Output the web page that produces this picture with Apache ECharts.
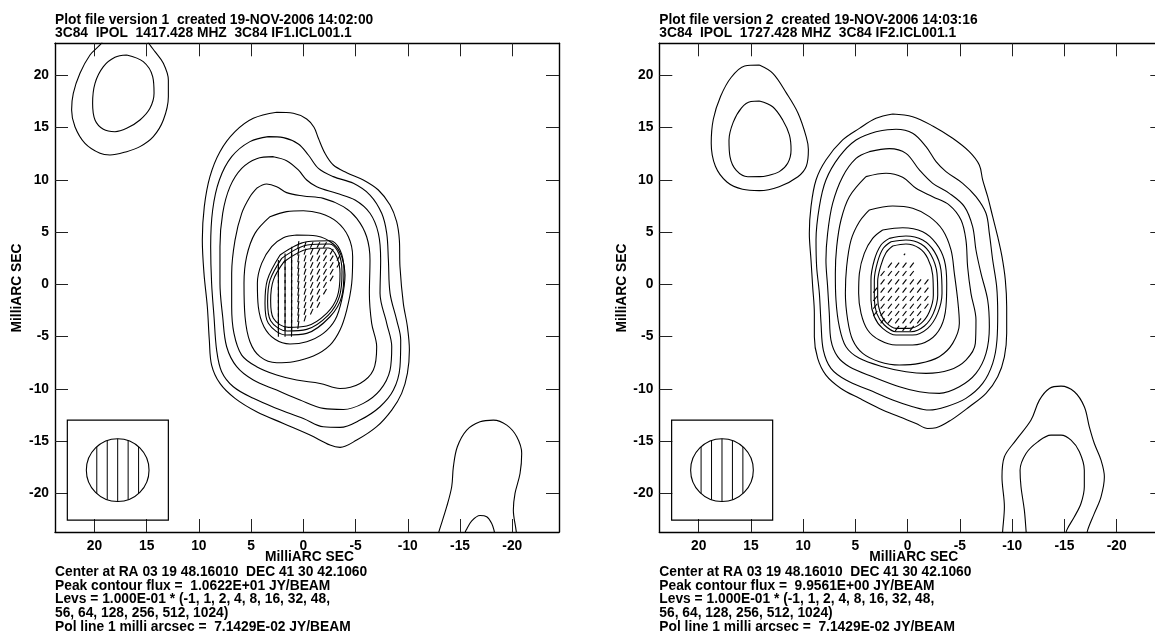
<!DOCTYPE html>
<html><head><meta charset="utf-8">
<script src="https://cdn.jsdelivr.net/npm/echarts@6/dist/echarts.min.js"></script>
<style>html,body{margin:0;padding:0;background:#fff}#c{width:1155px;height:634px}</style>
</head><body><div id="c"></div>
<script>
// ---------- text ----------
const titlesL = ["Plot file version 1  created 19-NOV-2006 14:02:00", "3C84  IPOL  1417.428 MHZ  3C84 IF1.ICL001.1"];
const titlesR = ["Plot file version 2  created 19-NOV-2006 14:03:16", "3C84  IPOL  1727.428 MHZ  3C84 IF2.ICL001.1"];
const notesL = ["Center at RA 03 19 48.16010  DEC 41 30 42.1060", "Peak contour flux =  1.0622E+01 JY/BEAM", "Levs = 1.000E-01 * (-1, 1, 2, 4, 8, 16, 32, 48,", "56, 64, 128, 256, 512, 1024)", "Pol line 1 milli arcsec =  7.1429E-02 JY/BEAM"];
const notesR = ["Center at RA 03 19 48.16010  DEC 41 30 42.1060", "Peak contour flux =  9.9561E+00 JY/BEAM", "Levs = 1.000E-01 * (-1, 1, 2, 4, 8, 16, 32, 48,", "56, 64, 128, 256, 512, 1024)", "Pol line 1 milli arcsec =  7.1429E-02 JY/BEAM"];
const axisName = "MilliARC SEC";
const tickValues = [20, 15, 10, 5, 0, -5, -10, -15, -20];

// ---------- left map (1417 MHz) contours, milliarcsec ----------
const L1 = [[2.55,16.47],[0.96,16.37],[-0.32,15.83],[-1.02,15.03],[-1.44,13.98],[-2.07,12.54],[-2.87,11.42],[-4.15,10.69],[-5.74,9.99],[-7.18,9.03],[-8.30,7.59],[-8.93,6.00],[-9.19,4.24],[-9.25,1.69],[-9.57,-1.82],[-9.96,-4.05],[-10.15,-6.29],[-9.96,-8.52],[-9.41,-10.43],[-8.46,-12.03],[-7.02,-13.62],[-5.11,-14.90],[-3.51,-15.60],[-2.55,-15.38],[-0.64,-14.42],[1.91,-13.31],[4.47,-12.19],[6.54,-10.91],[7.98,-9.48],[8.78,-7.72],[9.00,-5.33],[9.19,-2.14],[9.51,1.05],[9.67,4.24],[9.48,7.44],[8.94,10.31],[7.98,12.70],[6.54,14.61],[4.79,15.89]];
const L2 = [[3.35,14.14],[1.91,14.04],[0.48,13.43],[-0.48,12.38],[-1.44,11.10],[-2.87,10.31],[-4.79,9.67],[-6.38,8.55],[-7.50,6.80],[-7.98,4.88],[-8.14,2.33],[-8.30,-0.86],[-8.93,-3.41],[-9.32,-5.33],[-9.25,-7.88],[-8.62,-10.12],[-7.34,-11.71],[-5.43,-12.99],[-3.51,-13.69],[-1.91,-13.63],[0.00,-12.83],[2.55,-11.87],[4.79,-10.91],[6.70,-9.80],[7.82,-8.36],[8.30,-6.29],[8.55,-3.10],[8.78,0.10],[8.87,3.61],[8.68,7.12],[8.04,9.99],[6.86,12.22],[5.11,13.66]];
const L3 = [[2.87,12.22],[1.60,11.84],[0.48,10.95],[-0.32,9.99],[-1.28,9.35],[-3.19,8.71],[-4.95,8.07],[-6.38,6.80],[-7.18,4.88],[-7.40,2.33],[-7.34,-0.86],[-7.98,-3.73],[-8.46,-5.97],[-8.30,-8.20],[-7.34,-10.12],[-5.74,-11.39],[-3.83,-11.97],[-1.91,-11.87],[0.32,-11.07],[2.55,-10.12],[4.79,-9.16],[6.38,-7.88],[7.34,-5.97],[7.72,-3.10],[7.98,0.10],[7.98,3.61],[7.72,6.80],[7.02,9.35],[5.90,11.10],[4.47,12.03]];
const L4 = [[4.47,9.19],[3.51,9.60],[2.55,9.35],[1.60,8.78],[0.00,8.46],[-1.91,8.23],[-3.83,7.44],[-5.11,6.32],[-6.06,4.56],[-6.38,2.33],[-6.32,-0.86],[-6.54,-3.73],[-7.02,-5.97],[-6.70,-8.20],[-5.43,-9.48],[-3.51,-9.96],[-1.60,-9.48],[0.64,-9.16],[2.55,-8.68],[4.47,-7.88],[5.90,-6.77],[6.64,-4.69],[6.86,-2.14],[6.86,1.05],[6.54,4.24],[5.90,6.80],[5.11,8.39]];
const L5 = [[3.19,6.48],[1.60,6.96],[0.00,7.05],[-1.60,6.80],[-3.19,6.00],[-4.31,4.56],[-4.72,2.65],[-4.63,0.10],[-4.15,-2.46],[-3.51,-4.37],[-2.55,-5.81],[-0.96,-6.86],[0.96,-7.40],[2.55,-7.50],[4.15,-6.92],[5.11,-5.49],[5.58,-3.10],[5.68,0.10],[5.43,2.65],[4.63,4.88]];
const L6 = [[0.64,4.72],[-1.28,4.63],[-2.87,3.86],[-3.67,2.65],[-3.99,0.89],[-3.67,-1.50],[-3.03,-3.41],[-1.91,-4.69],[-0.32,-5.49],[1.28,-5.71],[2.71,-5.26],[3.77,-4.05],[4.31,-2.14],[4.40,0.10],[3.99,2.01],[3.03,3.61],[1.91,4.47]];
const L7 = [[2.23,2.81],[-0.32,4.08],[-2.55,4.18],[-3.51,3.29],[-3.89,1.37],[-3.67,-1.18],[-2.55,-3.10],[-0.32,-4.69],[1.60,-4.85],[3.35,-3.73],[3.67,-1.82],[3.45,0.41]];
const L8 = [[2.07,2.49],[-0.38,3.77],[-2.49,3.86],[-3.38,2.97],[-3.70,1.21],[-3.45,-1.18],[-2.39,-2.94],[-0.32,-4.31],[1.53,-4.47],[3.13,-3.48],[3.42,-1.66],[3.19,0.41]];
const L9 = [[1.85,2.17],[-0.48,3.38],[-2.39,3.48],[-3.19,2.65],[-3.51,1.05],[-3.25,-1.18],[-2.23,-2.78],[-0.32,-3.99],[1.44,-4.12],[2.87,-3.25],[3.13,-1.56],[2.87,0.41]];
const Lulo = [[19.14,23.39],[19.46,22.91],[20.42,21.95],[21.38,20.20],[22.02,18.28],[22.18,16.69],[21.86,15.09],[20.90,13.50],[19.46,12.54],[18.51,12.38],[16.91,12.70],[15.64,13.18],[14.36,14.14],[13.40,15.73],[12.92,17.96],[12.92,19.56],[13.40,21.16],[14.20,22.27],[14.68,22.91],[14.99,23.39]];
const Luli = [[16.91,21.95],[15.32,21.31],[14.42,19.88],[14.29,18.28],[14.68,16.85],[15.64,15.73],[16.91,14.93],[18.03,14.61],[19.14,14.84],[19.94,15.73],[20.17,17.33],[19.94,19.24],[19.14,20.84],[18.03,21.73]];
const Llro = [[-12.83,-24.16],[-13.02,-23.52],[-13.72,-21.28],[-14.20,-19.37],[-14.36,-17.46],[-14.74,-15.54],[-15.64,-13.94],[-16.91,-13.15],[-18.19,-12.99],[-19.47,-13.47],[-20.43,-14.59],[-20.90,-16.18],[-20.74,-18.10],[-20.26,-20.01],[-20.10,-21.60],[-20.36,-23.52],[-20.43,-24.16]];
const Llri = [[-15.32,-24.16],[-15.58,-23.52],[-16.12,-22.63],[-16.91,-22.12],[-17.55,-22.24],[-18.03,-22.88],[-18.26,-23.58],[-18.35,-24.16]];

// ---------- right map (1727 MHz) contours ----------
const R1 = [[1.43,16.31],[-0.48,16.05],[-2.40,15.16],[-4.31,13.98],[-5.90,12.70],[-6.86,11.42],[-7.18,9.99],[-7.66,8.39],[-8.14,6.48],[-8.62,4.56],[-9.03,2.65],[-9.35,0.41],[-9.48,-2.14],[-9.48,-4.69],[-9.26,-6.93],[-8.62,-8.84],[-7.50,-10.43],[-5.91,-11.71],[-4.15,-12.99],[-2.72,-13.72],[-1.92,-13.79],[-0.80,-13.31],[0.79,-12.67],[2.71,-11.87],[4.62,-10.91],[6.38,-9.96],[7.82,-8.68],[8.61,-7.08],[8.93,-5.01],[8.93,-2.78],[9.09,-0.22],[9.25,2.33],[9.41,4.88],[9.25,7.44],[8.77,9.99],[7.82,11.90],[6.22,13.82],[4.62,14.93],[3.03,15.89]];
const R2 = [[3.03,14.61],[1.11,14.84],[-0.48,14.46],[-1.76,13.18],[-2.72,11.74],[-3.67,10.79],[-5.27,9.67],[-6.54,8.39],[-7.50,6.80],[-7.82,4.88],[-8.14,2.33],[-8.52,-0.22],[-8.62,-2.78],[-8.55,-5.33],[-8.14,-7.56],[-7.18,-9.48],[-5.58,-10.91],[-3.67,-11.71],[-2.08,-12.03],[-0.48,-11.71],[1.43,-11.07],[3.67,-10.12],[5.90,-9.16],[7.34,-8.04],[8.07,-6.29],[8.29,-3.73],[8.45,-0.86],[8.71,1.69],[8.77,4.24],[8.45,7.44],[7.82,9.99],[6.54,12.22],[4.94,13.82]];
const R3 = [[3.67,12.70],[1.75,12.99],[0.16,12.54],[-1.12,10.95],[-2.40,9.67],[-3.99,8.71],[-5.43,7.44],[-6.22,5.52],[-6.54,3.29],[-7.02,1.05],[-7.66,-1.50],[-7.82,-4.05],[-7.50,-6.61],[-6.54,-8.52],[-4.95,-9.80],[-3.03,-10.43],[-1.12,-10.28],[0.79,-9.80],[3.35,-8.84],[5.58,-7.88],[6.70,-6.92],[7.34,-5.33],[7.50,-2.78],[7.66,-0.22],[7.82,2.33],[7.66,4.88],[7.18,7.75],[6.22,10.31],[4.94,12.06]];
const R4 = [[3.99,10.31],[2.07,10.63],[0.48,10.24],[-0.80,9.19],[-2.40,8.39],[-3.99,7.59],[-5.11,6.16],[-5.58,4.24],[-5.74,1.69],[-6.06,-0.86],[-6.54,-3.41],[-6.48,-5.65],[-5.58,-7.24],[-3.99,-8.20],[-1.76,-8.52],[0.16,-8.36],[2.39,-7.88],[4.62,-7.08],[5.90,-5.97],[6.54,-4.05],[6.86,-1.50],[6.92,1.05],[6.79,3.61],[6.38,6.16],[5.58,8.39]];
const R5 = [[3.67,7.12],[1.43,7.50],[-0.48,7.28],[-2.08,6.48],[-3.35,5.20],[-4.15,3.29],[-4.47,1.05],[-4.79,-1.50],[-4.95,-3.73],[-4.31,-5.65],[-3.03,-6.92],[-1.12,-7.56],[0.79,-7.72],[2.71,-7.40],[4.30,-6.61],[5.26,-5.33],[5.74,-3.41],[5.96,-0.86],[5.84,1.69],[5.42,4.24],[4.62,6.00]];
const R6 = [[2.39,5.20],[0.48,5.42],[-1.44,5.04],[-2.72,3.93],[-3.51,2.33],[-3.74,0.10],[-3.67,-2.14],[-3.19,-4.05],[-2.08,-5.33],[-0.48,-5.81],[1.11,-5.81],[2.71,-5.33],[3.83,-4.37],[4.46,-2.78],[4.69,-0.86],[4.62,1.05],[4.15,2.97],[3.35,4.40]];
const R7 = [[1.75,4.40],[0.16,4.63],[-1.44,4.24],[-2.56,3.13],[-3.19,1.37],[-3.29,-0.86],[-2.87,-2.78],[-1.92,-4.21],[-0.48,-4.85],[1.11,-4.85],[2.39,-4.21],[3.19,-3.10],[3.51,-1.50],[3.51,0.41],[3.19,2.33],[2.55,3.77]];
const R8 = [[1.59,4.08],[0.16,4.24],[-1.28,3.86],[-2.24,2.81],[-2.81,1.05],[-2.88,-1.02],[-2.46,-2.78],[-1.60,-3.99],[-0.32,-4.53],[1.11,-4.53],[2.23,-3.89],[2.96,-2.78],[3.19,-1.34],[3.19,0.41],[2.87,2.17],[2.33,3.45]];
const R9 = [[1.43,3.67],[0.16,3.86],[-1.12,3.45],[-1.92,2.49],[-2.40,0.89],[-2.46,-1.02],[-2.08,-2.62],[-1.28,-3.73],[-0.16,-4.21],[1.11,-4.21],[2.07,-3.64],[2.65,-2.62],[2.87,-1.34],[2.87,0.26],[2.55,1.85],[2.07,3.03]];
const Rulo = [[14.2,21.0],[12.9,20.2],[11.6,18.3],[10.5,16.4],[9.7,14.1],[9.5,12.9],[9.7,11.3],[10.5,10.3],[12.3,9.35],[14.2,8.97],[15.8,9.1],[17.3,9.8],[18.4,11.3],[18.8,13.5],[18.6,15.8],[17.9,18.0],[16.9,19.8],[15.6,20.9]];
const Ruli = [[14.2,17.55],[12.92,17.0],[11.96,15.73],[11.32,14.3],[11.16,12.86],[11.48,11.58],[12.28,10.79],[13.56,10.37],[14.2,10.31],[15.3,10.3],[16.4,10.9],[17.0,12.2],[17.1,13.8],[16.7,15.5],[15.9,16.9],[15.0,17.5]];
const Rlro = [[-9.03,-24.5],[-9.10,-23.52],[-9.26,-21.29],[-9.03,-18.42],[-9.26,-16.50],[-10.37,-14.91],[-11.81,-12.99],[-12.61,-11.08],[-13.56,-9.96],[-14.68,-9.74],[-15.96,-10.28],[-16.91,-11.71],[-17.39,-13.63],[-17.87,-15.23],[-18.51,-16.82],[-18.83,-18.42],[-18.51,-20.33],[-17.87,-21.92],[-17.23,-23.52],[-17.07,-24.5]];
const Rlri = [[-11.40,-24.5],[-11.33,-23.52],[-11.17,-21.61],[-10.85,-19.37],[-10.76,-17.78],[-11.33,-16.18],[-12.45,-15.07],[-13.72,-14.43],[-14.68,-14.43],[-15.64,-14.91],[-16.44,-16.02],[-16.91,-17.78],[-16.91,-19.37],[-16.59,-20.97],[-15.96,-22.24],[-15.23,-23.52],[-15.00,-24.5]];

// ---------- polarization vectors: [x, angle(deg, screen, clockwise from vertical), length(mas), [y...]] ----------
const polColsL = [
  [2.39, 0, 0.95, [1.85,1.21,0.57,-0.06,-0.70,-1.34,-1.98,-2.62,-3.25,-3.89,-4.53]],
  [1.75, 0, 0.95, [2.49,1.85,1.21,0.57,-0.06,-0.70,-1.34,-1.98,-2.62,-3.25,-3.89,-4.53]],
  [1.12, 2, 0.95, [3.13,2.49,1.85,1.21,0.57,-0.06,-0.70,-1.34,-1.98,-2.62,-3.25,-3.89,-4.53]],
  [0.48, 8, 0.75, [3.77,3.13,2.49,1.85,1.21,0.57,-0.06,-0.70,-1.34,-1.98,-2.62,-3.25,-3.89]],
  [-0.16, 18, 0.6, [3.77,3.13,2.49,1.85,1.21,0.57,-0.06,-0.70,-1.34,-1.98,-2.62,-3.25]],
  [-0.80, 24, 0.6, [3.77,3.13,2.49,1.85,1.21,0.57,-0.06,-0.70,-1.34,-1.98,-2.62]],
  [-1.44, 27, 0.6, [3.77,3.13,2.49,1.85,1.21,0.57,-0.06,-0.70,-1.34,-1.98]],
  [-2.07, 30, 0.6, [3.77,3.13,2.49,1.85,1.21,0.57,-0.06,-0.70]],
  [-2.71, 30, 0.6, [3.13,2.49,1.85,1.21,0.57]],
  [-3.35, 30, 0.55, [2.49,1.85]]
];
const polRowsR = [
  [2.87, 38, 0.2, [0.3]],
  [1.84, 38, 0.6, [1.7,1.0,0.3,-0.4]],
  [1.04, 38, 0.6, [2.4,1.7,1.0,0.3,-0.4]],
  [0.24, 38, 0.6, [2.4,1.7,1.0,0.3,-0.4,-1.1,-1.8]],
  [-0.55, 38, 0.6, [3.1,2.4,1.7,1.0,0.3,-0.4,-1.1,-1.8]],
  [-1.35, 38, 0.6, [3.1,2.4,1.7,1.0,0.3,-0.4,-1.1,-1.8]],
  [-2.09, 38, 0.6, [3.1,2.4,1.7,1.0,0.3,-0.4,-1.1,-1.8]],
  [-2.79, 38, 0.6, [3.1,2.4,1.7,1.0,0.3,-0.4,-1.1]],
  [-3.49, 38, 0.6, [2.4,1.7,1.0,0.3,-0.4,-1.1]],
  [-4.21, 38, 0.6, [1.0,0.3,-0.4]]
];

// ---------- beam: [cx, cy, r, boxX1, boxX2, boxY1, boxY2] ----------
const beamL = [17.77, -17.78, 3.0, 22.59, 12.92, -12.99, -22.56];
const beamR = [17.77, -17.78, 3.0, 22.59, 12.92, -12.99, -22.56];
const beamHatch = [-2, -1, 0, 1, 2];

// ---------- build ----------
const FONT = '"Liberation Sans", Arial, Helvetica, sans-serif';
const FS = 13.8;
const xRange = [-24.47, 23.77];
const yRange = [-23.7, 23.07];

function close(a) { return a.concat([a[0]]); }
function flatCols(cols) { const o = []; cols.forEach(c => c[3].forEach(y => o.push([c[0], y, c[2], c[1]]))); return o; }
function flatRows(rows) { const o = []; rows.forEach(r => r[3].forEach(x => o.push([x, r[0], r[2], r[1]]))); return o; }

function polRender(params, api) {
  const c = api.coord([api.value(0), api.value(1)]);
  const s = api.size([1, 1]);
  const L = api.value(2) * Math.abs(s[1]);
  const a = api.value(3) * Math.PI / 180;
  const dx = Math.sin(a) * L / 2, dy = Math.cos(a) * L / 2;
  return { type: 'line', shape: { x1: c[0] - dx, y1: c[1] + dy, x2: c[0] + dx, y2: c[1] - dy }, style: { stroke: '#000', lineWidth: 1.1 } };
}
function beamRender(params, api) {
  const v = [0,1,2,3,4,5,6].map(i => api.value(i));
  const p1 = api.coord([v[3], v[5]]), p2 = api.coord([v[4], v[6]]);
  const c = api.coord([v[0], v[1]]);
  const r = v[2] * Math.abs(api.size([1, 1])[0]);
  const children = [
    { type: 'rect', shape: { x: Math.min(p1[0], p2[0]), y: Math.min(p1[1], p2[1]), width: Math.abs(p2[0] - p1[0]), height: Math.abs(p2[1] - p1[1]) }, style: { fill: 'none', stroke: '#000', lineWidth: 1.2 } },
    { type: 'circle', shape: { cx: c[0], cy: c[1], r: r }, style: { fill: 'none', stroke: '#000', lineWidth: 1.1 } }
  ];
  beamHatch.forEach(d => {
    const h = Math.sqrt(v[2] * v[2] - d * d);
    const a = api.coord([v[0] + d, v[1] + h]), b = api.coord([v[0] + d, v[1] - h]);
    children.push({ type: 'line', shape: { x1: a[0], y1: a[1], x2: b[0], y2: b[1] }, style: { stroke: '#000', lineWidth: 1 } });
  });
  return { type: 'group', children: children };
}

const grids = [
  { left: 55, top: 43.3, width: 504, height: 488.7, outerBoundsMode: 'none', containLabel: false },
  { left: 659.3, top: 43.3, width: 504, height: 488.7, outerBoundsMode: 'none', containLabel: false }
];
const axLine = { show: true, onZero: false, lineStyle: { color: '#000', width: 1.4 } };
const tick = { show: true, inside: true, length: 13, customValues: tickValues, lineStyle: { color: '#222', width: 1 } };
const lab = { fontFamily: FONT, fontSize: FS, fontWeight: 'bold', color: '#000', customValues: tickValues };
const xAxes = [], yAxes = [];
[0, 1].forEach(g => {
  xAxes.push({ type: 'value', gridIndex: g, position: 'bottom', min: xRange[0], max: xRange[1], inverse: true, axisLine: axLine, axisTick: tick, axisLabel: Object.assign({ margin: 7 }, lab), splitLine: { show: false } });
  xAxes.push({ type: 'value', gridIndex: g, position: 'top', min: xRange[0], max: xRange[1], inverse: true, axisLine: axLine, axisTick: tick, axisLabel: { show: false }, splitLine: { show: false } });
  yAxes.push({ type: 'value', gridIndex: g, position: 'left', min: yRange[0], max: yRange[1], axisLine: axLine, axisTick: tick, axisLabel: Object.assign({ margin: 6 }, lab), splitLine: { show: false } });
  yAxes.push({ type: 'value', gridIndex: g, position: 'right', min: yRange[0], max: yRange[1], axisLine: axLine, axisTick: tick, axisLabel: { show: false }, splitLine: { show: false } });
});

const series = [];
function contour(data, g, closed) {
  series.push({ type: 'line', xAxisIndex: g * 2, yAxisIndex: g * 2, data: closed ? close(data) : data, smooth: 0.35, showSymbol: false, symbol: 'none', clip: true, silent: true, lineStyle: { color: '#000', width: 1.1 } });
}
[L1, L2, L3, L4, L5, L6, L7, L8, L9, Luli].forEach(d => contour(d, 0, true));
[Lulo, Llro, Llri].forEach(d => contour(d, 0, false));
[R1, R2, R3, R4, R5, R6, R7, R8, R9, Rulo, Ruli].forEach(d => contour(d, 1, true));
[Rlro, Rlri].forEach(d => contour(d, 1, false));
series.push({ type: 'custom', xAxisIndex: 0, yAxisIndex: 0, data: flatCols(polColsL), renderItem: polRender, silent: true });
series.push({ type: 'custom', xAxisIndex: 2, yAxisIndex: 2, data: flatRows(polRowsR), renderItem: polRender, silent: true });
series.push({ type: 'custom', xAxisIndex: 0, yAxisIndex: 0, data: [beamL], renderItem: beamRender, silent: true });
series.push({ type: 'custom', xAxisIndex: 2, yAxisIndex: 2, data: [beamR], renderItem: beamRender, silent: true });

const font = 'bold ' + FS + 'px ' + FONT;
function txt(s, x, y, align, rot) {
  return { type: 'text', x: x, y: y, rotation: rot || 0, silent: true, style: { text: s, font: font, fill: '#000', textAlign: align || 'left', align: align || 'left', textVerticalAlign: 'middle', verticalAlign: 'middle' } };
}
const graphics = [];
[[titlesL, notesL, 0], [titlesR, notesR, 604.3]].forEach(([t, n, off]) => {
  graphics.push(txt(t[0], 55 + off, 19.8));
  graphics.push(txt(t[1], 55 + off, 33.2));
  n.forEach((s, i) => graphics.push(txt(s, 55 + off, 571.8 + i * 13.9)));
  graphics.push(txt(axisName, 309.5 + off, 557.3, 'center'));
  graphics.push(txt(axisName, 17.5 + off, 288, 'center', Math.PI / 2));
});

const chart = echarts.init(document.getElementById('c'), null, { renderer: 'canvas' });
chart.setOption({ animation: false, backgroundColor: '#fff', grid: grids, xAxis: xAxes, yAxis: yAxes, series: series, graphic: { elements: graphics } });
</script></body></html>
